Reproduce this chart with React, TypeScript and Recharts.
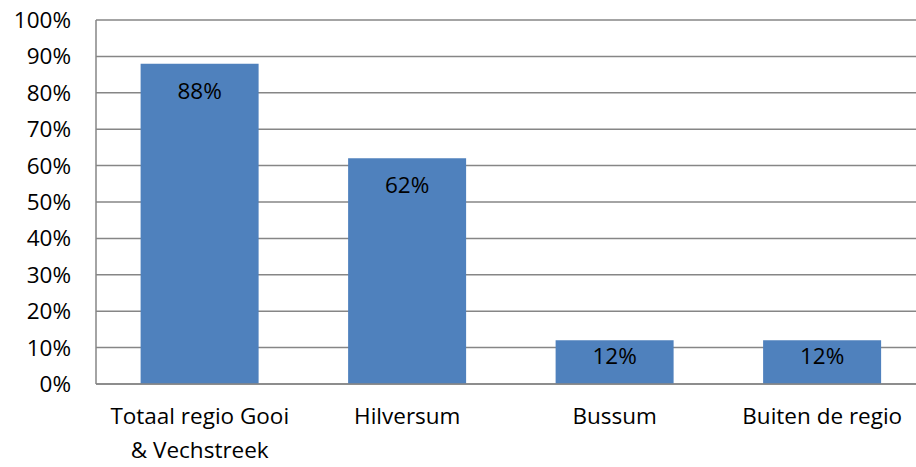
import React from 'react';
import { BarChart, Bar, XAxis, YAxis, CartesianGrid, LabelList } from 'recharts';

const categories = ['Totaal regio Gooi & Vechstreek', 'Hilversum', 'Bussum', 'Buiten de regio'];
const shares = [88, 62, 12, 12];
const yTicks = [0, 10, 20, 30, 40, 50, 60, 70, 80, 90, 100];

const data = categories.map((name, i) => ({ name, value: shares[i] }));

const FONT = '"Open Sans", Lato, sans-serif';

// wrap long category names over two lines, like the original
const CategoryTick = (props: any) => {
  const { x, y, payload } = props;
  const label: string = payload.value;
  const lines = label.length > 20 ? ['Totaal regio Gooi', '& Vechstreek'] : [label];
  return (
    <text x={x} y={y} textAnchor="middle" fill="#000" fontSize={22.5} fontFamily={FONT}>
      {lines.map((l, i) => (
        <tspan key={i} x={x} dy={i === 0 ? 32 : 34}>
          {l}
        </tspan>
      ))}
    </text>
  );
};

// label at the inside end of the bar, pushed up for short bars so it stays inside
const BarValueLabel = (props: any) => {
  const { x, y, width, height, value } = props;
  const gap = Math.min(19, height - 36);
  return (
    <text
      x={x + width / 2}
      y={y + gap + 16}
      textAnchor="middle"
      fill="#000"
      fontSize={22.5}
      fontFamily={FONT}
    >
      {`${value}%`}
    </text>
  );
};

export default function App() {
  // the original plot area runs a little past the right edge of the picture
  return (
    <div style={{ position: 'absolute', left: 0, top: 0, width: 916, height: 467, overflow: 'hidden', background: '#fff' }}>
      <BarChart
        width={926}
        height={467}
        data={data}
        margin={{ top: 20, right: 0, bottom: 0, left: 0 }}
        barCategoryGap="21.5%"
      >
        <CartesianGrid vertical={false} stroke="#868686" strokeWidth={1.5} />
        <XAxis
          dataKey="name"
          axisLine={{ stroke: '#868686', strokeWidth: 1.5 }}
          tickLine={false}
          height={83}
          interval={0}
          tick={<CategoryTick />}
        />
        <YAxis
          domain={[0, 100]}
          ticks={yTicks}
          width={96}
          axisLine={{ stroke: '#868686', strokeWidth: 1.5 }}
          tickLine={false}
          tickSize={0}
          tickMargin={25}
          tickFormatter={(v: number) => `${v}%`}
          tick={{ fill: '#000', fontSize: 22.5, fontFamily: FONT }}
        />
        <Bar dataKey="value" fill="#4F81BD" isAnimationActive={false}>
          <LabelList dataKey="value" content={<BarValueLabel />} />
        </Bar>
      </BarChart>
    </div>
  );
}
